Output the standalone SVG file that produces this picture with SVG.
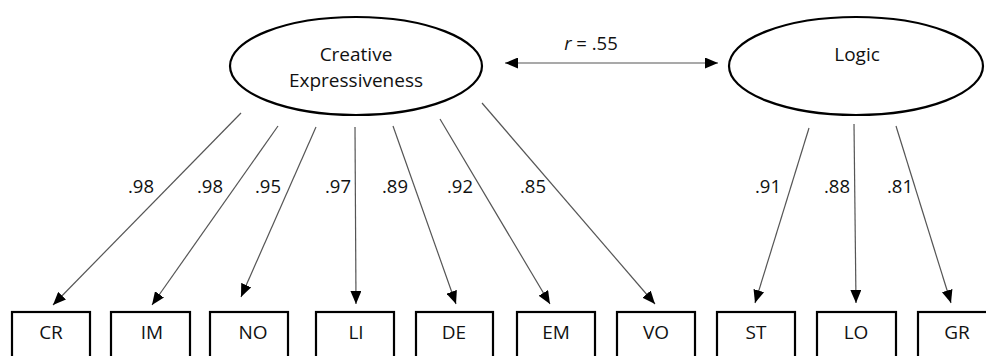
<svg xmlns="http://www.w3.org/2000/svg" width="986" height="356" viewBox="0 0 986 356">
<defs>
<marker id="ah" markerWidth="13" markerHeight="11" refX="13" refY="5.5" orient="auto" markerUnits="userSpaceOnUse">
<path d="M0,0 L13,5.5 L0,11 Z" fill="#000"/>
</marker>
<marker id="ahs" markerWidth="13" markerHeight="11" refX="0" refY="5.5" orient="auto" markerUnits="userSpaceOnUse">
<path d="M13,0 L0,5.5 L13,11 Z" fill="#000"/>
</marker>
<style>
text{font-family:"Open Sans","Liberation Sans",sans-serif;font-size:19px;fill:#111;text-anchor:middle}
.lat{fill:#fff;stroke:#000;stroke-width:2.2}
.obs{fill:#fff;stroke:#000;stroke-width:2.2}
.c{stroke:#555;stroke-width:1.2;fill:none;marker-end:url(#ah)}
.lbl{font-size:18.5px}
</style>
</defs>
<rect width="986" height="356" fill="#fff"/>
<g id="connectors">
<line class="c" x1="241" y1="113" x2="53" y2="305"/>
<line class="c" x1="278" y1="126" x2="152" y2="305"/>
<line class="c" x1="316" y1="127" x2="241" y2="297"/>
<line class="c" x1="355" y1="127" x2="356" y2="304"/>
<line class="c" x1="393" y1="126" x2="456" y2="304"/>
<line class="c" x1="440" y1="119" x2="550" y2="304"/>
<line class="c" x1="482" y1="103" x2="655" y2="304"/>
<line class="c" x1="809" y1="128" x2="755" y2="303"/>
<line class="c" x1="854" y1="124" x2="856" y2="303"/>
<line class="c" x1="896" y1="126" x2="951" y2="303"/>
<line class="c" x1="505" y1="63" x2="718" y2="63" marker-start="url(#ahs)"/>
<text class="lbl" x="141" y="193">.98</text>
<text class="lbl" x="210" y="193">.98</text>
<text class="lbl" x="268" y="193">.95</text>
<text class="lbl" x="338" y="193">.97</text>
<text class="lbl" x="395" y="193">.89</text>
<text class="lbl" x="460" y="193">.92</text>
<text class="lbl" x="533" y="193">.85</text>
<text class="lbl" x="768" y="193">.91</text>
<text class="lbl" x="837" y="193">.88</text>
<text class="lbl" x="900" y="193">.81</text>
<text class="lbl" x="591" y="50"><tspan font-style="italic">r</tspan> = .55</text>
</g>
<g id="creative">
<ellipse class="lat" cx="356" cy="66" rx="126" ry="49"/>
<text x="356" y="61">Creative</text>
<text x="356" y="87">Expressiveness</text>
</g>
<g id="logic">
<ellipse class="lat" cx="856" cy="66" rx="127" ry="49"/>
<text x="857" y="61">Logic</text>
</g>
<g id="CR"><rect class="obs" x="12" y="312" width="78" height="60"/><text x="51" y="339">CR</text></g>
<g id="IM"><rect class="obs" x="111" y="312" width="79" height="60"/><text x="152" y="339">IM</text></g>
<g id="NO"><rect class="obs" x="210" y="312" width="78" height="60"/><text x="253" y="339">NO</text></g>
<g id="LI"><rect class="obs" x="316" y="312" width="78" height="60"/><text x="356" y="339">LI</text></g>
<g id="DE"><rect class="obs" x="416" y="312" width="77" height="60"/><text x="454" y="339">DE</text></g>
<g id="EM"><rect class="obs" x="517" y="312" width="78" height="60"/><text x="556" y="339">EM</text></g>
<g id="VO"><rect class="obs" x="617" y="312" width="78" height="60"/><text x="656" y="339">VO</text></g>
<g id="ST"><rect class="obs" x="717" y="312" width="78" height="60"/><text x="756" y="339">ST</text></g>
<g id="LO"><rect class="obs" x="817" y="312" width="79" height="60"/><text x="856" y="339">LO</text></g>
<g id="GR"><rect class="obs" x="918" y="312" width="78" height="60"/><text x="957" y="339">GR</text></g>
</svg>
